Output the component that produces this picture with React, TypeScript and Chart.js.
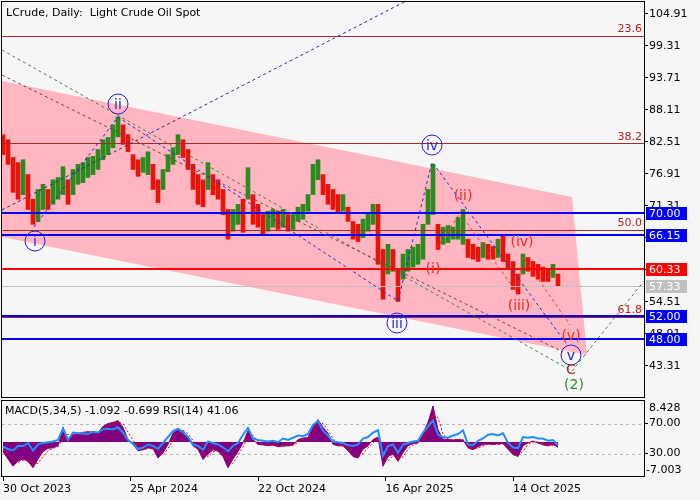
import React, { useEffect, useRef } from "react";
import { Chart, registerables } from "chart.js";

Chart.register(...registerables);

// ---------- data (bar index step = 5 trading days, price in USD) ----------
const priceHigh = [
  83.8, 82.9, 79.8, 78.9, 79.4, 76.8, 72.5, 74.2, 75.1, 74.2,
  75.9, 76.3, 78.2, 75.9, 77.7, 78.6, 78.9, 79.8, 80.0, 81.2,
  82.9, 83.3, 85.5, 86.9, 85.5, 83.8, 80.3, 79.4, 79.8, 80.8,
  78.6, 75.9, 77.7, 80.3, 81.5, 83.8, 82.9, 81.2, 78.6, 76.8,
  75.9, 78.9, 76.8, 75.9, 74.2, 70.7, 70.7, 71.6, 72.5, 78.0,
  73.3, 71.6, 69.8, 70.4, 70.7, 70.4, 70.7, 69.8, 69.8, 71.1,
  71.6, 73.3, 78.6, 79.4, 76.8, 75.1, 74.2, 73.3, 73.3, 71.1,
  68.6, 68.1, 69.0, 70.2, 71.6, 71.6, 63.7, 64.6, 63.7, 60.2,
  62.9, 63.7, 64.1, 64.6, 68.1, 74.2, 78.6, 68.1, 67.6, 67.9,
  67.6, 69.3, 70.7, 65.5, 64.6, 64.1, 64.9, 64.6, 64.2, 65.5,
  66.0, 62.9, 61.6, 59.4, 62.9, 62.3, 61.6, 61.1, 60.6, 60.2,
  61.1, 59.4,
];
const priceLow = [
  80.3, 78.6, 73.7, 72.5, 73.3, 70.7, 68.1, 68.6, 70.7, 70.7,
  71.6, 72.5, 73.3, 71.6, 73.3, 75.1, 75.4, 76.3, 76.8, 77.7,
  79.4, 80.3, 81.5, 83.4, 82.1, 80.8, 77.7, 76.5, 77.2, 76.8,
  74.2, 71.9, 74.2, 77.3, 78.6, 80.3, 79.8, 77.7, 74.2, 71.6,
  71.2, 74.2, 73.3, 72.5, 69.8, 65.5, 66.9, 68.1, 66.7, 72.5,
  68.1, 67.6, 66.3, 66.9, 67.6, 67.2, 67.6, 66.9, 67.2, 68.6,
  69.0, 70.4, 73.3, 75.9, 73.3, 71.6, 70.7, 70.2, 70.4, 68.6,
  65.5, 65.1, 65.8, 66.9, 68.1, 61.1, 55.0, 59.4, 59.9, 54.6,
  58.5, 59.9, 60.6, 61.1, 62.0, 68.1, 69.8, 63.7, 64.6, 64.9,
  65.5, 65.5, 64.6, 62.3, 62.0, 61.6, 62.3, 62.0, 62.0, 62.3,
  61.6, 60.2, 56.7, 55.9, 59.4, 59.9, 59.0, 58.5, 58.1, 58.1,
  58.8, 57.3,
];
const macdHist = [
  -2.0, -3.5, -5.0, -3.9, -3.5, -4.0, -5.3, -3.5, -2.0, -1.3,
  -1.2, -0.8, 3.0, 0.6, 1.5, 1.7, 2.0, 2.1, 2.0, 1.9,
  3.2, 3.8, 4.0, 4.4, 3.0, 0.5, -0.5, -1.8, -1.6, -1.2,
  -1.4, -3.3, -2.2, -0.5, 1.8, 2.7, 2.2, 1.0, -0.8, -1.5,
  -3.6, -2.5, -1.6, -1.9, -3.0, -5.3, -3.5, -2.0, -0.2, 2.3,
  0.5, -0.5, -0.6, -0.8, -0.6, -1.0, -0.8, -0.8, -0.6, 0.5,
  0.8, 0.9, 3.2, 4.6, 3.0, 1.8, -0.5, -0.8, -0.8, -1.8,
  -3.0, -3.3, -1.5, -0.8, 0.5, 1.0, -5.0, -3.0, -2.5, -4.0,
  -2.2, -0.8, -0.3, -0.2, 1.8, 4.0, 7.4, 2.5, 0.6, 0.5,
  0.4, 0.5, 0.4, -1.2, -1.6, -1.0, -0.5, -0.4, -0.5, -0.4,
  -0.3, -1.5, -2.6, -3.0, -0.8, -0.2, 0.2, -0.2, -0.6, -0.8,
  -0.5, -1.092,
];
const macdSignal = [
  -1.5, -2.5, -3.5, -4.2, -3.8, -3.6, -4.4, -4.4, -3.0, -1.8,
  -1.3, -1.0, 0.8, 1.6, 1.2, 1.5, 1.8, 2.0, 2.0, 2.0,
  2.4, 3.2, 3.8, 4.1, 3.8, 2.0, 0.4, -1.0, -1.6, -1.4,
  -1.3, -2.3, -2.6, -1.4, 0.4, 2.0, 2.4, 1.7, 0.3, -1.0,
  -2.5, -3.0, -2.0, -1.8, -2.4, -4.0, -4.4, -2.8, -1.0, 1.0,
  1.4, 0.0, -0.5, -0.7, -0.7, -0.8, -0.9, -0.8, -0.7, -0.1,
  0.6, 0.8, 2.0, 3.8, 3.8, 2.4, 0.7, -0.6, -0.8, -1.3,
  -2.4, -3.1, -2.4, -1.2, -0.2, 0.7, -2.0, -4.0, -2.8, -3.2,
  -3.1, -1.5, -0.6, -0.3, 0.8, 2.9, 5.6, 5.0, 1.6, 0.6,
  0.5, 0.5, 0.5, -0.4, -1.4, -1.3, -0.8, -0.5, -0.5, -0.5,
  -0.4, -0.9, -2.0, -2.8, -1.9, -0.5, 0.0, 0.0, -0.4, -0.7,
  -0.7, -0.699,
];
const rsiValues = [
  39, 36, 34, 40, 40, 44, 34, 42, 44, 45,
  46, 48, 63, 48, 58, 57, 57, 56, 59, 58,
  62, 63, 62, 65, 58, 48, 43, 36, 38, 42,
  40, 36, 44, 52, 60, 63, 58, 52, 42, 40,
  35, 46, 44, 42, 38, 33, 40, 44, 55, 64,
  50, 48, 47, 46, 47, 45, 50, 48, 51, 54,
  53, 56, 68, 73, 60, 54, 46, 45, 44, 41,
  40, 42, 50, 52, 58, 61, 27, 40, 42, 31,
  42, 44, 46, 47, 58, 66, 74, 55, 52, 51,
  54, 56, 61, 42, 41, 47, 50, 55, 56, 54,
  57, 44, 38, 37, 52, 51, 52, 50, 50, 47,
  48, 41.06,
];

const dateTickBars = [0, 25.4, 51, 76.5, 102];
const dateTickLabels = ["30 Oct 2023", "25 Apr 2024", "22 Oct 2024", "16 Apr 2025", "14 Oct 2025"];
const priceTicks = [104.91, 99.31, 93.71, 88.11, 82.51, 76.91, 71.31, 65.71, 60.11, 54.51, 48.91, 43.31];
const rsiTicks = [70, 30];
const macdRange = [-7.003, 8.428];
const fibLevels = [101.06, 82.28, 67.1, 51.93];
const fibLabels = ["23.6", "38.2", "50.0", "61.8"];
const blueLevels = [70.0, 66.15, 52.0, 48.0];
const redLevels = [60.33];
const lastPrice = [57.33];

// annotation geometry in data space (bar index, price)
const channelPts = [
  { x: -0.2, y: 93.18 }, { x: 113.8, y: 72.88 }, { x: 116.8, y: 45.23 }, { x: -0.2, y: 65.88 },
];
const waveBluePts = [
  { x: 6.2, y: 67.63 }, { x: 23, y: 86.88 }, { x: 79, y: 54.68 }, { x: 85.8, y: 79.01 }, { x: 112.6, y: 47.33 },
];
const waveRedPts = [
  { x: 86.8, y: 63.96 }, { x: 91.4, y: 70.08 }, { x: 102.8, y: 56.08 }, { x: 104, y: 62.38 }, { x: 113.4, y: 50.48 },
];
const trendNavyPts = [{ x: -0.2, y: 70.61 }, { x: 81, y: 107.36 }];
const trendGreenPts = [{ x: -0.2, y: 98.61 }, { x: 113.8, y: 42.43 }, { x: 128.2, y: 58.18 }];
const trendMaroonPts = [{ x: -0.2, y: 94.23 }, { x: 112, y: 45.76 }];
const blueWaveLabels = [
  { t: "i", x: 6.4, y: 65.18 }, { t: "ii", x: 23, y: 89.16 }, { t: "iii", x: 78.8, y: 50.83 },
  { t: "iv", x: 85.8, y: 81.98 }, { t: "v", x: 113.6, y: 45.23 },
];
const redWaveLabels = [
  { t: "(i)", x: 86, y: 60.28 }, { t: "(ii)", x: 92, y: 73.06 }, { t: "(iii)", x: 103.2, y: 53.81 },
  { t: "(iv)", x: 103.8, y: 65.01 }, { t: "(v)", x: 113.6, y: 48.56 },
];
const cLabel = { t: "C", x: 113.6, y: 42.61 };
const twoLabel = { t: "(2)", x: 114.2, y: 39.98 };

const X_MIN = -0.2;
const X_MAX = 128.2;
const Y_MIN = 37.88;
const Y_MAX = 107.01;

const FONT = "'DejaVu Sans', sans-serif";
const BG = "#f6f6f6";

function clipArea(ctx: CanvasRenderingContext2D, a: any) {
  ctx.beginPath();
  ctx.rect(a.left, a.top, a.right - a.left, a.bottom - a.top);
  ctx.clip();
}

function toPx(chart: any, p: { x: number; y: number }, yId = "y") {
  return [chart.scales.x.getPixelForValue(p.x), chart.scales[yId].getPixelForValue(p.y)];
}

function strokePts(chart: any, pts: any[], color: string, width: number, dash: number[]) {
  const ctx = chart.ctx as CanvasRenderingContext2D;
  ctx.save();
  ctx.strokeStyle = color;
  ctx.lineWidth = width;
  ctx.setLineDash(dash);
  ctx.beginPath();
  pts.forEach((p, i) => {
    const [X, Y] = toPx(chart, p);
    if (i) ctx.lineTo(X, Y);
    else ctx.moveTo(X, Y);
  });
  ctx.stroke();
  ctx.restore();
}

function hLine(chart: any, v: number, color: string, width: number, yId = "y", dash: number[] = []) {
  const ctx = chart.ctx as CanvasRenderingContext2D;
  const a = chart.chartArea;
  let Y = Math.round(chart.scales[yId].getPixelForValue(v));
  if (width % 2 === 1) Y += 0.5;
  ctx.save();
  ctx.strokeStyle = color;
  ctx.lineWidth = width;
  ctx.setLineDash(dash);
  ctx.beginPath();
  ctx.moveTo(a.left, Y);
  ctx.lineTo(a.right, Y);
  ctx.stroke();
  ctx.restore();
}

function frame(chart: any) {
  const ctx = chart.ctx as CanvasRenderingContext2D;
  const a = chart.chartArea;
  ctx.save();
  ctx.strokeStyle = "#000";
  ctx.lineWidth = 1;
  ctx.strokeRect(Math.round(a.left) - 0.5, Math.round(a.top) - 0.5, Math.round(a.right - a.left) + 1, Math.round(a.bottom - a.top) + 1);
  ctx.restore();
}

const mainDecor = {
  id: "mainDecor",
  beforeDatasetsDraw(chart: any) {
    const ctx = chart.ctx as CanvasRenderingContext2D;
    ctx.save();
    clipArea(ctx, chart.chartArea);
    ctx.fillStyle = "#ffb6c1";
    ctx.beginPath();
    channelPts.forEach((p, i) => {
      const [X, Y] = toPx(chart, p);
      if (i) ctx.lineTo(X, Y);
      else ctx.moveTo(X, Y);
    });
    ctx.closePath();
    ctx.fill();
    ctx.restore();
  },
  afterDatasetsDraw(chart: any) {
    const ctx = chart.ctx as CanvasRenderingContext2D;
    const a = chart.chartArea;
    ctx.save();
    clipArea(ctx, a);
    fibLevels.forEach((v) => hLine(chart, v, "#a52a2a", 1));
    lastPrice.forEach((v) => hLine(chart, v, "#c0c0c0", 1));
    redLevels.forEach((v) => hLine(chart, v, "#ff0000", 2));
    blueLevels.forEach((v) => hLine(chart, v, "#0000ff", 2));
    ctx.font = `11px ${FONT}`;
    ctx.fillStyle = "#b22222";
    ctx.textAlign = "right";
    ctx.textBaseline = "bottom";
    fibLevels.forEach((v, i) => {
      const Y = chart.scales.y.getPixelForValue(v);
      ctx.fillText(fibLabels[i], a.right - 2, Y - 1);
    });
    strokePts(chart, trendGreenPts, "#3a8a3a", 1, [3, 3]);
    strokePts(chart, trendMaroonPts, "#8b3a3a", 1, [3, 3]);
    strokePts(chart, trendNavyPts, "#2a2a8a", 1, [3, 3]);
    strokePts(chart, waveBluePts, "#2626dd", 1, [3, 3]);
    strokePts(chart, waveRedPts, "#f03a3a", 1, [3, 3]);
    ctx.textAlign = "center";
    ctx.textBaseline = "middle";
    blueWaveLabels.forEach((l) => {
      const [X, Y] = toPx(chart, l);
      ctx.beginPath();
      ctx.arc(X, Y, 10, 0, Math.PI * 2);
      ctx.strokeStyle = "#1e1ee0";
      ctx.lineWidth = 1;
      ctx.setLineDash([]);
      ctx.stroke();
      ctx.fillStyle = "#1e1ee0";
      ctx.font = `14px ${FONT}`;
      ctx.fillText(l.t, X, Y + 1);
    });
    ctx.font = `14px ${FONT}`;
    ctx.fillStyle = "#f02828";
    redWaveLabels.forEach((l) => {
      const [X, Y] = toPx(chart, l);
      ctx.fillText(l.t, X, Y);
    });
    {
      const [X, Y] = toPx(chart, cLabel);
      ctx.fillStyle = "#a0302a";
      ctx.fillText(cLabel.t, X, Y);
    }
    {
      const [X, Y] = toPx(chart, twoLabel);
      ctx.fillStyle = "#2e8b2e";
      ctx.fillText(twoLabel.t, X, Y);
    }
    ctx.restore();
  },
  afterDraw(chart: any) {
    const ctx = chart.ctx as CanvasRenderingContext2D;
    const a = chart.chartArea;
    frame(chart);
    const tag = (v: number, color: string) => {
      const Y = Math.round(chart.scales.y.getPixelForValue(v));
      ctx.fillStyle = color;
      ctx.fillRect(a.right + 2, Y - 6, 41, 13);
      ctx.fillStyle = "#ffffff";
      ctx.font = `11px ${FONT}`;
      ctx.textAlign = "left";
      ctx.textBaseline = "middle";
      ctx.fillText(v.toFixed(2), a.right + 5, Y + 1);
    };
    ctx.save();
    blueLevels.forEach((v) => tag(v, "#0000ff"));
    redLevels.forEach((v) => tag(v, "#ff0000"));
    lastPrice.forEach((v) => tag(v, "#c0c0c0"));
    ctx.font = `11px ${FONT}`;
    ctx.fillStyle = "#000";
    ctx.textAlign = "left";
    ctx.textBaseline = "middle";
    ctx.fillText("LCrude, Daily:  Light Crude Oil Spot", 6, 13);
    ctx.restore();
  },
};

const subDecor = {
  id: "subDecor",
  beforeDatasetsDraw(chart: any) {
    const ctx = chart.ctx as CanvasRenderingContext2D;
    ctx.save();
    clipArea(ctx, chart.chartArea);
    rsiTicks.forEach((v) => hLine(chart, v, "#b8b8b8", 1, "rsi", [3, 3]));
    ctx.restore();
  },
  afterDraw(chart: any) {
    const ctx = chart.ctx as CanvasRenderingContext2D;
    const a = chart.chartArea;
    frame(chart);
    ctx.save();
    ctx.font = `11px ${FONT}`;
    ctx.fillStyle = "#000";
    ctx.textAlign = "left";
    ctx.textBaseline = "middle";
    const lastMacd = macdHist[macdHist.length - 1].toFixed(3);
    const lastSig = macdSignal[macdSignal.length - 1].toFixed(3);
    const lastRsi = rsiValues[rsiValues.length - 1].toFixed(2);
    ctx.fillText(`MACD(5,34,5) ${lastMacd} ${lastSig} RSI(14) ${lastRsi}`, 5, a.top + 10);
    ctx.fillText(macdRange[1].toFixed(3), a.right + 5, a.top + 7);
    ctx.fillText(macdRange[0].toFixed(3), a.right + 2, a.bottom - 6);
    ctx.restore();
  },
};

export default function App() {
  const mainRef = useRef<HTMLCanvasElement>(null);
  const subRef = useRef<HTMLCanvasElement>(null);

  useEffect(() => {
    document.body.style.margin = "0";
    document.body.style.background = BG;
    Chart.defaults.font.family = FONT;

    const bars = priceHigh.map((h, i) => ({ x: i, y: [priceLow[i], h] }));
    const barColors = priceHigh.map((h, i) =>
      i > 0 && h + priceLow[i] >= priceHigh[i - 1] + priceLow[i - 1] ? "#2d8a1e" : "#e8140c"
    );

    const main = new Chart(mainRef.current as HTMLCanvasElement, {
      type: "bar",
      data: {
        datasets: [
          {
            data: bars as any,
            backgroundColor: barColors,
            barThickness: 4,
          } as any,
        ],
      },
      options: {
        animation: false,
        responsive: false,
        layout: { padding: { left: 2, top: 2, right: 0, bottom: 1 } },
        plugins: { legend: { display: false }, tooltip: { enabled: false } },
        scales: {
          x: { type: "linear", min: X_MIN, max: X_MAX, display: false, offset: false },
          y: {
            type: "linear",
            position: "right",
            min: Y_MIN,
            max: Y_MAX,
            afterBuildTicks: (s: any) => {
              s.ticks = priceTicks.map((v) => ({ value: v }));
            },
            afterFit: (s: any) => {
              s.width = 56;
              s.paddingTop = 0;
              s.paddingBottom = 0;
            },
            ticks: {
              callback: (v: any) => Number(v).toFixed(2),
              font: { family: FONT, size: 11 },
              color: "#000",
              padding: 1,
              autoSkip: false,
            },
            grid: { drawOnChartArea: false, tickLength: 4, color: "#000" },
            border: { display: false },
          },
        },
      } as any,
      plugins: [mainDecor],
    });

    const sub = new Chart(subRef.current as HTMLCanvasElement, {
      type: "line",
      data: {
        datasets: [
          {
            data: rsiValues.map((v, i) => ({ x: i, y: v })),
            yAxisID: "rsi",
            borderColor: "#1e90ff",
            borderWidth: 2,
            pointRadius: 0,
            order: 0,
          },
          {
            data: macdSignal.map((v, i) => ({ x: i, y: v })),
            yAxisID: "macd",
            borderColor: "#ff0000",
            borderWidth: 1,
            borderDash: [2, 2],
            pointRadius: 0,
            order: 1,
          },
          {
            data: macdHist.map((v, i) => ({ x: i, y: v })),
            yAxisID: "macd",
            borderColor: "#800080",
            backgroundColor: "#800080",
            borderWidth: 1,
            fill: "origin",
            pointRadius: 0,
            order: 2,
          },
        ] as any,
      },
      options: {
        animation: false,
        responsive: false,
        layout: { padding: { left: 2, top: 3, right: 0, bottom: 0 } },
        plugins: { legend: { display: false }, tooltip: { enabled: false } },
        scales: {
          x: {
            type: "linear",
            position: "bottom",
            min: X_MIN,
            max: X_MAX,
            offset: false,
            afterBuildTicks: (s: any) => {
              s.ticks = dateTickBars.map((v) => ({ value: v }));
            },
            afterFit: (s: any) => {
              s.height = 24;
              s.paddingLeft = 0;
              s.paddingRight = 0;
            },
            ticks: {
              align: "start",
              autoSkip: false,
              maxRotation: 0,
              callback: (v: any) => {
                const i = dateTickBars.indexOf(Number(v));
                return i >= 0 ? dateTickLabels[i] : "";
              },
              font: { family: FONT, size: 11 },
              color: "#000",
              padding: 2,
            },
            grid: { drawOnChartArea: false, tickLength: 5, color: "#000", offset: false },
            border: { display: false },
          },
          macd: { type: "linear", min: macdRange[0], max: macdRange[1], display: false },
          rsi: {
            type: "linear",
            position: "right",
            min: 0,
            max: 100,
            afterBuildTicks: (s: any) => {
              s.ticks = rsiTicks.map((v) => ({ value: v }));
            },
            afterFit: (s: any) => {
              s.width = 56;
              s.paddingTop = 0;
              s.paddingBottom = 0;
            },
            ticks: {
              callback: (v: any) => Number(v).toFixed(2),
              font: { family: FONT, size: 11 },
              color: "#000",
              padding: 1,
            },
            grid: { drawOnChartArea: false, tickLength: 4, color: "#000" },
            border: { display: false },
          },
        },
      } as any,
      plugins: [subDecor],
    });

    return () => {
      main.destroy();
      sub.destroy();
    };
  }, []);

  return (
    <div style={{ position: "relative", width: 700, height: 500, background: BG }}>
      <canvas
        ref={mainRef}
        width={700}
        height={398}
        style={{ position: "absolute", left: 0, top: 0, width: 700, height: 398 }}
      />
      <canvas
        ref={subRef}
        width={700}
        height={102}
        style={{ position: "absolute", left: 0, top: 398, width: 700, height: 102 }}
      />
    </div>
  );
}
